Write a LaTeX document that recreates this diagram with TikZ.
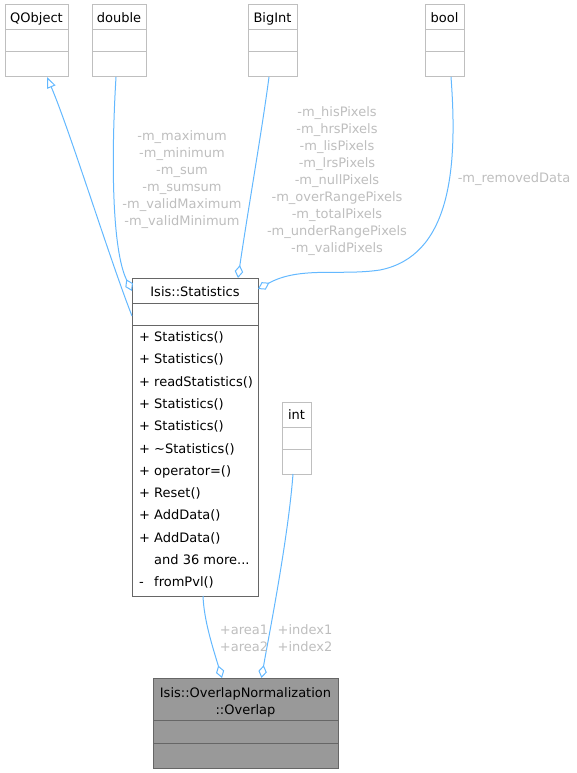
\documentclass[tikz,border=0pt]{standalone}
\usepackage{fontspec}
\setmainfont{DejaVu Sans}
\usetikzlibrary{arrows.meta}

\definecolor{edgeblue}{HTML}{63B8FF}
\definecolor{lblgray}{HTML}{BEBEBE}
\definecolor{boxgray}{HTML}{BFBFBF}
\definecolor{darkline}{HTML}{666666}
\definecolor{fillgray}{HTML}{999999}

\tikzset{
  txt/.style={font=\fontsize{13}{17}\selectfont, inner sep=0pt},
  lbl/.style={txt, text=lblgray, align=center},
  extbox/.style={draw=boxgray, line width=1pt, inner sep=0pt, outer sep=0pt, anchor=north west},
  mainbox/.style={extbox, draw=darkline, fill=white},
  hlbox/.style={extbox, draw=darkline, fill=fillgray},
  sep/.style={line width=1pt},
  edge/.style={draw=edgeblue, line width=1pt},
  agg/.style={edge, {Diamond[open, length=13pt, width=8.5pt]}-},
  inherit/.style={edge, -{Triangle[open, length=11pt, width=9pt]}},
}

% external type box: name, x, y, width, title
\newcommand\typebox[5]{%
  \node[extbox, minimum width=#4pt, minimum height=72pt] (#1) at (#2,#3) {};
  \node[txt, anchor=base] (#1-t) at ([yshift=-17.5pt]#1.north) {#5};
  \draw[sep, boxgray] ([yshift=-25pt]#1.north west) -- ([yshift=-25pt]#1.north east);
  \draw[sep, boxgray] ([yshift=-47pt]#1.north west) -- ([yshift=-47pt]#1.north east);
}
\newcommand\moremembers{and 36 more...}

\begin{document}
\begin{tikzpicture}[x=1pt, y=-1pt]
\useasboundingbox (0,0) rectangle (577,773);

% referenced types
\typebox{qobj}{5}{5}{63}{QObject}
\typebox{dbl}{92}{5}{54}{double}
\typebox{bigint}{248}{5}{49}{BigInt}
\typebox{bool}{425}{5}{39}{bool}
\typebox{int}{282}{402}{29}{int}

% Isis::Statistics
\node[mainbox, minimum width=126pt, minimum height=318pt] (stats) at (132,278) {};
\node[txt, anchor=base] (stats-t) at ([yshift=-18pt]stats.north) {Isis::Statistics};
\draw[sep, darkline] ([yshift=-25pt]stats.north west) -- ([yshift=-25pt]stats.north east);
\draw[sep, darkline] ([yshift=-47.5pt]stats.north west) -- ([yshift=-47.5pt]stats.north east);
\foreach \mk/\nm [count=\i] in {+/Statistics(), +/Statistics(), +/readStatistics(),
    +/Statistics(), +/Statistics(), +/\textasciitilde Statistics(), +/operator=(),
    +/Reset(), +/AddData(), +/AddData(), {}/\moremembers, -/fromPvl()}
  \node[txt, anchor=base west] (m\i) at (139, {341.7+22.27*(\i-1)})
    {\makebox[15pt][l]{\mk}\nm};

% Isis::OverlapNormalization::Overlap
\node[hlbox, minimum width=185pt, minimum height=90pt] (ovl) at (153,678) {};
\node[txt, anchor=base] (ovl-t1) at ([yshift=-19pt]ovl.north) {Isis::OverlapNormalization};
\node[txt, anchor=base] (ovl-t2) at ([yshift=-36pt]ovl.north) {::Overlap};
\draw[sep, darkline] ([yshift=-42pt]ovl.north west) -- ([yshift=-42pt]ovl.north east);
\draw[sep, darkline] ([yshift=-65pt]ovl.north west) -- ([yshift=-65pt]ovl.north east);

% inheritance
\draw[inherit] ([yshift=-38pt]stats.north west) .. controls (110,260) and (70,131) .. ([xshift=10.5pt]qobj.south);

% aggregations into Isis::Statistics
\draw[agg] ([yshift=-13pt]stats.north west) .. controls (112,250) and (111,160) .. ([xshift=-3pt]dbl.south);
\draw[agg] ([xshift=43pt]stats.north) .. controls (248,210) and (262,130) .. ([xshift=-3.5pt]bigint.south);
\draw[agg] ([yshift=-11pt]stats.north east) .. controls (300,266) and (340,276) .. (380,270)
  .. controls (450,256) and (458,170) .. ([xshift=6.5pt]bool.south);

% aggregations into Overlap
\draw[agg] ([xshift=-23.5pt]ovl.north) .. controls (212,645) and (204,620) .. ([xshift=8pt]stats.south);
\draw[agg] ([xshift=16pt]ovl.north) .. controls (268,640) and (288,540) .. ([xshift=-3.5pt]int.south);

% edge labels
\node[lbl] (l-dbl) at (182,180) {-m\_maximum\\-m\_minimum\\-m\_sum\\-m\_sumsum\\-m\_validMaximum\\-m\_validMinimum};
\node[lbl] (l-big) at (337,181) {-m\_hisPixels\\-m\_hrsPixels\\-m\_lisPixels\\-m\_lrsPixels\\-m\_nullPixels\\-m\_overRangePixels\\-m\_totalPixels\\-m\_underRangePixels\\-m\_validPixels};
\node[lbl] (l-bool) at (514,179) {-m\_removedData};
\node[lbl] (l-area) at (244,638) {+area1\\+area2};
\node[lbl] (l-idx) at (305,638) {+index1\\+index2};
\end{tikzpicture}
\end{document}
